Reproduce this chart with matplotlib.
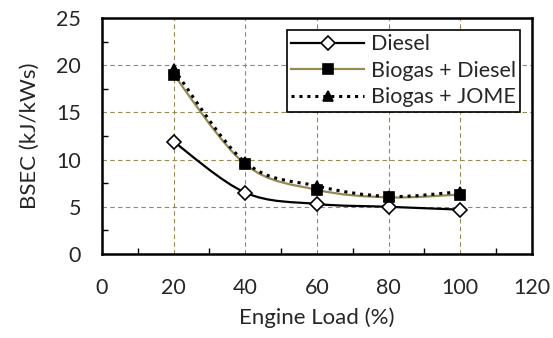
import numpy as np
import matplotlib.pyplot as plt
from matplotlib.path import Path
from matplotlib.patches import PathPatch
from matplotlib.lines import Line2D
from matplotlib.ticker import MultipleLocator

plt.rcParams['font.family'] = ['Lato', 'DejaVu Sans']

load = [20, 40, 60, 80, 100]
bsec_diesel = [11.9, 6.5, 5.3, 5.0, 4.7]
bsec_biogas_diesel = [19.0, 9.5, 6.8, 6.0, 6.3]
bsec_biogas_jome = [19.6, 9.7, 7.2, 6.1, 6.6]

olive = '#948A54'
txt = '#262626'


def smooth_path(x, y):
    # bezier segments through the points, same idea as a spreadsheet "smoothed line"
    p = np.column_stack([x, y]).astype(float)
    n = len(p)
    verts = [p[0]]
    codes = [Path.MOVETO]
    for i in range(n - 1):
        p0 = p[i - 1] if i > 0 else p[i]
        p3 = p[i + 2] if i + 2 < n else p[i + 1]
        c1 = p[i] + (p[i + 1] - p0) / 6.0
        c2 = p[i + 1] - (p3 - p[i]) / 6.0
        verts += [c1, c2, p[i + 1]]
        codes += [Path.CURVE4] * 3
    return Path(verts, codes)


fig = plt.figure(figsize=(5.53, 3.38), dpi=100)
ax = fig.add_axes([0.1844, 0.2485, 0.7776, 0.6982])

series = [
    (bsec_diesel, 'k', '-', 'D', 'white', 7.5, 'Diesel'),
    (bsec_biogas_diesel, olive, '-', 's', 'k', 6.5, 'Biogas + Diesel'),
    (bsec_biogas_jome, 'k', (0, (1, 1.6)), '^', 'k', 6.5, 'Biogas + JOME'),
]

handles = []
for yv, col, ls, mk, mfc, ms, lab in series:
    lw = 2.2 if ls != '-' else 1.6
    patch = PathPatch(smooth_path(load, yv), facecolor='none', edgecolor=col,
                      lw=lw, linestyle=ls, zorder=3)
    ax.add_patch(patch)
    ax.plot(load, yv, linestyle='none', marker=mk, ms=ms, mfc=mfc, mec='k',
            mew=1.2, zorder=4)
    handles.append(Line2D([], [], color=col, lw=lw, linestyle=ls, marker=mk,
                          ms=ms, mfc=mfc, mec='k', mew=1.2))

ax.set_xlim(0, 120)
ax.set_ylim(0, 25)
ax.xaxis.set_major_locator(MultipleLocator(20))
ax.xaxis.set_minor_locator(MultipleLocator(10))
ax.yaxis.set_major_locator(MultipleLocator(5))
ax.yaxis.set_minor_locator(MultipleLocator(2.5))
ax.tick_params(which='major', length=0, labelsize=15.5, colors=txt)
ax.tick_params(axis='x', which='major', pad=17)
ax.tick_params(axis='y', which='major', pad=15)
ax.tick_params(which='minor', direction='in', length=4, width=1, color='k')
ax.grid(True, which='major', color=olive, linestyle=(0, (4, 3)), lw=0.8)

for s in ax.spines.values():
    s.set_linewidth(1.8)
    s.set_color('k')

ax.set_xlabel('Engine Load (%)', fontsize=16, color=txt, labelpad=7)
ax.set_ylabel('BSEC (kJ/kWs)', fontsize=16, color=txt, labelpad=12)

leg = ax.legend(handles, [s[6] for s in series], loc='upper right',
                bbox_to_anchor=(0.972, 0.949), fontsize=15.5, handlelength=3.4,
                numpoints=1, fancybox=False, framealpha=1, edgecolor='k',
                borderpad=0.2, labelspacing=0.3, handletextpad=0.3,
                borderaxespad=0)
leg.get_frame().set_linewidth(1.2)
for t in leg.get_texts():
    t.set_color(txt)

fig.savefig('out.png', dpi=100)
